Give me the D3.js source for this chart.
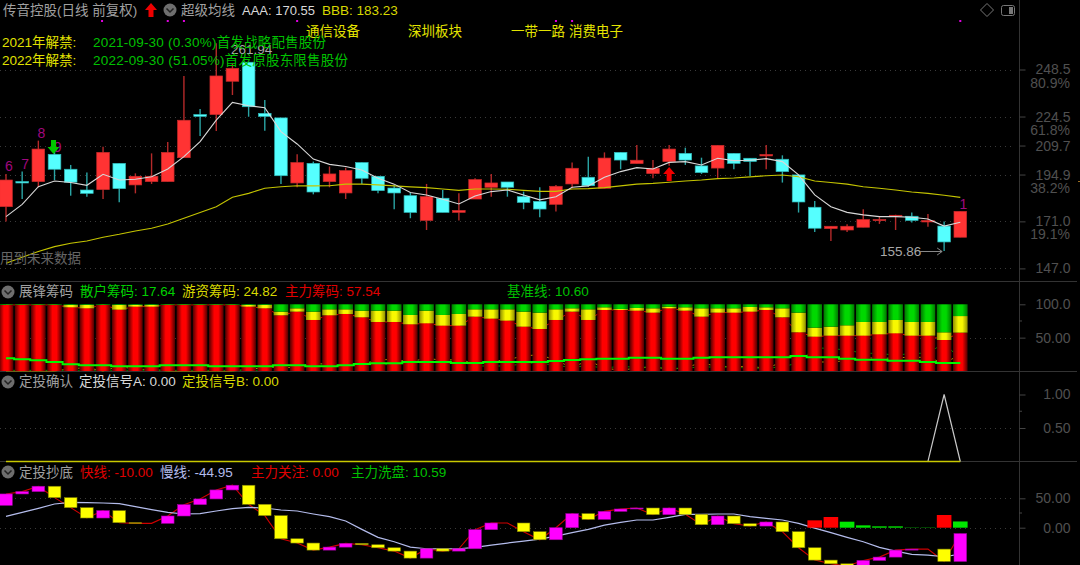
<!DOCTYPE html>
<html>
<head>
<meta charset="utf-8">
<script src="https://cdn.jsdelivr.net/npm/d3@7/dist/d3.min.js"></script>
<style>
    html, body { margin: 0; background: #000; }
    svg { display: block; }
    text { font-family: "Liberation Sans", "Noto Sans CJK SC", sans-serif; font-size: 13.5px; }
    .axis path { display: none; }
    .axis line { stroke: #444; }
    .axis text { fill: #505050; font-size: 14px; text-anchor: end; }
</style>
</head>
<body>
<svg id="chart" width="1080" height="565"></svg>
<script>
// price panel, one entry per trading day
const opens = [178.5,191.3,191.3,205.2,197.6,187.0,187.2,200.6,189.6,191.3,191.3,203.5,225.5,225.5,242.5,252.2,226.1,223.8,190.6,200.6,191.3,185.5,201.0,194.0,188.0,184.1,171.5,182.8,175.6,182.4,188.4,191.1,183.6,181.2,179.7,190.1,193.5,187.9,206.2,200.5,195.4,201.5,205.7,199.3,198.2,205.7,203.2,204.4,202.7,194.7,178.2,167.3,166.6,168.0,171.4,173.6,173.6,170.7,168.6,162.9]
const closes = [192.1,190.6,207.9,197.6,191.0,185.3,206.2,187.7,194.0,194.0,206.2,222.6,224.6,245.2,249.1,229.5,224.6,194.3,201.0,186.0,195.2,196.9,193.0,186.7,185.5,175.6,183.6,175.6,176.6,192.3,190.6,188.4,180.7,177.3,188.9,198.1,189.2,203.3,202.3,202.2,198.1,207.9,202.3,195.9,209.8,200.6,201.6,205.1,196.4,180.9,167.5,168.5,168.5,171.9,171.9,174.1,171.5,171.4,160.5,176.1]
const highs = [195.2,196.4,212.2,209.1,199.8,195.9,209.1,200.6,195.5,205.7,211.5,245.2,228.3,261.94,251.6,252.2,232.9,223.8,205.2,201.5,199.0,198.4,201.0,194.0,189.6,185.8,190.1,187.0,185.3,193.0,195.2,191.1,186.2,188.4,189.6,201.1,204.0,206.2,206.2,210.0,202.3,210.0,208.6,203.5,209.8,205.7,203.2,210.0,204.7,194.7,181.4,168.5,169.5,177.2,173.4,174.4,175.5,174.8,170.9,176.1]
const lows = [170.9,182.4,188.4,192.1,184.1,183.6,182.4,180.7,185.3,190.1,191.3,203.5,214.6,217.1,235.5,224.4,217.3,190.1,188.4,184.8,188.4,182.4,190.1,185.3,177.2,172.6,166.6,175.6,171.4,182.4,183.6,183.6,177.2,173.1,176.0,187.9,188.7,187.9,197.6,200.5,193.0,199.4,199.8,195.2,193.0,197.6,194.2,197.6,190.8,175.5,165.6,161.0,165.6,168.0,169.7,166.6,170.4,168.3,155.86,162.9]
const aaa = [173.4,179.7,188.7,191.6,190.8,189.4,195.0,192.1,192.5,193.8,197.7,204.0,211.7,222.7,231.7,230.0,229.0,216.8,210.5,202.8,200.1,199.0,197.2,193.0,190.0,185.7,184.5,182.3,179.9,184.0,186.2,187.0,184.5,182.0,183.6,188.4,189.1,193.5,196.4,198.4,197.7,201.1,201.5,199.8,203.2,202.0,202.2,203.0,201.5,194.7,184.5,178.5,175.6,174.3,173.4,173.4,173.1,172.2,168.6,170.55]
const bbb = [149.6,152.7,155.6,158.1,159.8,161.0,162.9,164.4,166.1,167.5,169.7,172.6,175.5,178.5,183.3,185.3,187.9,188.7,189.2,189.1,189.2,190.0,190.0,189.6,189.1,188.6,188.2,187.5,186.8,187.5,187.5,187.4,186.8,186.3,186.3,187.5,187.7,188.2,189.1,190.0,190.4,191.0,191.6,192.1,192.8,193.1,193.7,194.3,194.7,193.8,191.6,190.8,190.0,188.7,187.9,187.0,186.0,185.3,184.3,183.23]
const priceTicks = [248.5, 224.5, 209.7, 194.9, 171.0, 147.0]
const fibLabels = ["80.9%", "61.8%", "", "38.2%", "19.1%", ""]
const countLabels = ["6", "7", "8", "9"]

// chips panel
const mainChips = [99,99,99,99,95.5,94,99,92,96.5,96.5,99,99,99,99,99,96.5,94,83.5,89,76.5,83.5,85.5,80.5,73.5,73.5,70,71.5,68,68,81.5,78.5,75.5,66.5,63,76.5,89,76.5,91.5,91.5,90.5,87.5,94,90.5,81.5,87.5,87.5,89,91.5,80.5,58,51.5,53,53,53,55,56.5,53,53,46.5,57.54]
const hotChips = [0,0,0,0,3.5,5,0,7,2.5,2.5,0,0,0,0,0,2.5,5,5.5,5,12.5,9,7,10,17,17,14,19,16,17.5,11,14,17,22.5,24.5,16,5,16,4,1.5,4,6.5,2.5,5,12.5,6.5,6.5,7,4,13.5,29.5,13.5,13.5,15.5,20.5,18.5,20,20.5,20.5,11.5,24.82]
const retailChips = [1,1,1,1,1,1,1,1,1,1,1,1,1,1,1,1,1,11,6,11,7.5,7.5,9.5,9.5,9.5,16,9.5,16,14.5,7.5,7.5,7.5,11,12.5,7.5,6,7.5,4.5,7,5.5,6,3.5,4.5,6,6,6,4,4.5,6,12.5,35,33.5,31.5,26.5,26.5,23.5,26.5,26.5,42,17.64]
const baseLine = [19,17.5,16,13.5,10,8.5,8.5,7,7,7,8.5,8.5,8.5,7,7,7,7,8.5,8.5,7,7,8.5,10.5,11.5,11.5,13.5,13.5,13.5,12,12,13.5,13.5,13.5,13.5,15,16.5,17.5,18.5,18.5,20,20,18.5,18.5,20,20.5,20.5,20.5,20.5,20.5,22.5,20.5,20.5,18.5,17,17,15.5,15.5,13.5,12,12]

// signal panel
const signalA = [0,0,0,0,0,0,0,0,0,0,0,0,0,0,0,0,0,0,0,0,0,0,0,0,0,0,0,0,0,0,0,0,0,0,0,0,0,0,0,0,0,0,0,0,0,0,0,0,0,0,0,0,0,0,0,0,0,0,1,0]
const signalB = [0,0,0,0,0,0,0,0,0,0,0,0,0,0,0,0,0,0,0,0,0,0,0,0,0,0,0,0,0,0,0,0,0,0,0,0,0,0,0,0,0,0,0,0,0,0,0,0,0,0,0,0,0,0,0,0,0,0,0,0]

// bottom panel
const fastStart = 38
const fastLine = [57.4,61.4,70.5,51.1,34.1,16.5,29.0,8.5,7.4,7.4,19.9,39.2,48.9,64.2,72.2,39.8,20.5,-18.8,-26.1,-38.1,-33.0,-26.7,-29.0,-34.1,-39.8,-51.7,-35.8,-39.8,-35.8,-3.4,8.0,8.0,-6.8,-20.5,0,23.9,14.2,27.8,31.8,33.5,22.2,33.5,22.7,5.1,19.9,6.8,2.8,9.7,-6.8,-34.1,-55.1,-61.4,-65.3,-55.7,-50.0,-38.1,-36.4,-36.4,-57.4,-10.0]
const slowLine = [19.3,26.1,33,40.3,43.2,42.6,42,40.9,35.8,30.7,26.1,23.3,23.9,28.4,32.4,34.7,33.5,30.1,28.4,23.3,18.8,11.4,-2.8,-16.5,-23.9,-33,-35.8,-35.8,-35.8,-33.5,-29.5,-26.1,-22.7,-19.3,-14.2,-8.5,-2.8,4.5,9.1,13.1,13.1,17.6,22.7,22.7,23.3,23.3,18.8,15.9,13.1,7.4,-0.6,-8.5,-16.5,-23.9,-33.5,-39.8,-45.5,-46.6,-49.4,-44.95]
const focusBars = [0,0,0,0,0,0,0,0,0,0,0,0,0,0,0,0,0,0,0,0,0,0,0,0,0,0,0,0,0,0,0,0,0,0,0,0,0,0,0,0,0,0,0,0,0,0,0,0,0,0,12.5,18.2,0,0,0,0,0,0,21.6,0]
const washBars = [0,0,0,0,0,0,0,0,0,0,0,0,0,0,0,0,0,0,0,0,0,0,0,0,0,0,0,0,0,0,0,0,0,0,0,0,0,0,0,0,0,0,0,0,0,0,0,0,0,0,0,0,10.2,4,2.3,2.3,0.8,0.8,0,10.59]

const axisX = 1019
const svg = d3.select("#chart")

const x = d3.scaleLinear().domain([0, opens.length - 1]).range([6, 960.3])
const yPrice = d3.scaleLinear().domain([147, 248.5]).range([268.4, 69.5])
const yChips = d3.scaleLinear().domain([0, 100]).range([371, 304.3])
const ySignal = d3.scaleLinear().domain([0, 1]).range([461.5, 394.5])
const yBottom = d3.scaleLinear().domain([0, 50]).range([527.7, 498.3])

function makeGradient(defs, id, edge, middle) {
    let grad = defs.append("linearGradient").attr("id", id)
    grad.append("stop").attr("offset", "0").attr("stop-color", edge)
    grad.append("stop").attr("offset", "0.36").attr("stop-color", middle)
    grad.append("stop").attr("offset", "0.64").attr("stop-color", middle)
    grad.append("stop").attr("offset", "1").attr("stop-color", edge)
}

let defs = svg.append("defs")
makeGradient(defs, "cylRed", "#500000", "#ff0000")
makeGradient(defs, "cylYellow", "#909000", "#f8f800")
makeGradient(defs, "cylGreen", "#007800", "#00d800")

function label(text, px, py, color, anchor) {
    return svg.append("text")
        .attr("x", px)
        .attr("y", py)
        .attr("fill", color)
        .attr("text-anchor", anchor || "start")
        .text(text)
}

function gridLines(values, scale) {
    svg.append("g").selectAll("line").data(values).join("line")
        .attr("x1", 0)
        .attr("x2", axisX - 4)
        .attr("y1", d => Math.round(scale(d)) + 0.5)
        .attr("y2", d => Math.round(scale(d)) + 0.5)
        .attr("stroke", "#3a3a3a")
        .attr("stroke-dasharray", "1,4")
}

function rightAxis(values, scale, format) {
    return svg.append("g")
        .attr("class", "axis")
        .attr("transform", `translate(${axisX + 0.5},0)`)
        .call(d3.axisRight(scale).tickValues(values).tickSize(6).tickFormat(format))
        .call(g => g.selectAll("text").attr("x", 51))
}

function minorTick(value, scale) {
    svg.append("line")
        .attr("x1", axisX).attr("x2", axisX + 3)
        .attr("y1", scale(value)).attr("y2", scale(value))
        .attr("stroke", "#444")
}

function headerIcon(cx, cy) {
    svg.append("circle").attr("cx", cx).attr("cy", cy).attr("r", 6.5).attr("fill", "#6e6e6e")
    svg.append("path")
        .attr("d", `M${cx - 3.5},${cy - 1.5} L${cx},${cy + 2} L${cx + 3.5},${cy - 1.5}`)
        .attr("fill", "none").attr("stroke", "#222").attr("stroke-width", 1.5)
}

function arrow(cx, tipY, dir, color) {
    // dir 1 points up, -1 points down
    svg.append("path")
        .attr("transform", `translate(${cx},${tipY}) scale(1,${dir})`)
        .attr("d", "M0,0 L6,7 L2.5,7 L2.5,14 L-2.5,14 L-2.5,7 L-6,7 Z")
        .attr("fill", color)
}

// frame
svg.append("g").selectAll("line").data([282, 372, 462]).join("line")
    .attr("x1", 0).attr("x2", 1077)
    .attr("y1", d => d - 0.5).attr("y2", d => d - 0.5)
    .attr("stroke", "#333")
svg.append("line").attr("x1", axisX + 0.5).attr("x2", axisX + 0.5).attr("y1", 0).attr("y2", 565).attr("stroke", "#333")

// ---- price panel ----
gridLines(priceTicks, yPrice)
rightAxis(priceTicks, yPrice, d => d.toFixed(1))
svg.append("g").selectAll("text").data(fibLabels).join("text")
    .attr("x", 1070)
    .attr("y", (d, i) => yPrice(priceTicks[i]) + 18)
    .attr("text-anchor", "end")
    .attr("fill", "#505050")
    .style("font-size", "14px")
    .text(d => d)

let candles = svg.append("g").selectAll("g").data(opens).join("g")
candles.append("line")
    .attr("x1", (d, i) => x(i)).attr("x2", (d, i) => x(i))
    .attr("y1", (d, i) => yPrice(highs[i])).attr("y2", (d, i) => yPrice(lows[i]))
    .attr("stroke", (d, i) => closes[i] >= d ? "#b52a2a" : "#2aa5a5")
    .attr("stroke-width", 1.4)
candles.append("rect")
    .attr("x", (d, i) => x(i) - 6.3)
    .attr("width", 12.6)
    .attr("y", (d, i) => yPrice(Math.max(d, closes[i])))
    .attr("height", (d, i) => Math.max(1, Math.abs(yPrice(d) - yPrice(closes[i]))))
    .attr("fill", (d, i) => closes[i] >= d ? "#ff3333" : "#55ffff")
    .attr("stroke", (d, i) => closes[i] >= d ? "#c82a2a" : "#30b8b8")
    .attr("stroke-width", 0.7)

let priceLine = d3.line().x((d, i) => x(i)).y(d => yPrice(d))
svg.append("path").attr("d", priceLine(bbb)).attr("fill", "none").attr("stroke", "#c4c400").attr("stroke-width", 1.1)
svg.append("path").attr("d", priceLine(aaa)).attr("fill", "none").attr("stroke", "#d8d8d8").attr("stroke-width", 1.1)

// count marks above the first candles and the last one
countLabels.forEach((t, i) => {
    let shift = i == 3 ? 5 : -3
    svg.append("text")
        .attr("x", x(i) + 3)
        .attr("y", yPrice(highs[i]) + shift)
        .attr("text-anchor", "middle")
        .attr("fill", "#a0087e")
        .style("font-size", "14px")
        .text(t)
})
svg.append("text")
    .attr("x", x(59) + 3).attr("y", yPrice(highs[59]) - 2)
    .attr("text-anchor", "middle").attr("fill", "#a0087e").style("font-size", "14px").text("1")

arrow(x(3) - 1, 154, -1, "#00c800")
arrow(x(41), 167, 1, "#f00000")

// small magenta marks along the top
svg.append("g").selectAll("rect").data([6, 10, 11, 18, 34, 35, 59]).join("rect")
    .attr("x", d => x(d) - 1 + (d == 6 ? -1 : 0))
    .attr("y", 20).attr("width", 2).attr("height", 2).attr("fill", "#e000e0")

label("261.94", x(15) + 3, yPrice(highs[13]) + 11, "#a8a8a8", "middle")
label("155.86", 880, 256, "#a8a8a8")
svg.append("path")
    .attr("d", `M${x(58) - 24},251.5 H${x(58) - 2} M${x(58) - 7},248 L${x(58) - 2},251.5 L${x(58) - 7},255`)
    .attr("fill", "none").attr("stroke", "#888")
label("用到未来数据", 0, 263, "#666")

// header
label("传音控股(日线 前复权)", 3, 15, "#a0a0a0")
arrow(151, 3, 1, "#ee0000")
headerIcon(170, 10)
label("超级均线", 181, 15, "#a0a0a0")
label("AAA: 170.55", 242, 15, "#d8d8d8").style("font-size", "13px")
label("BBB: 183.23", 322, 15, "#d8d800")
label("通信设备", 306, 36, "#e4e400")
label("深圳板块", 408, 36, "#e4e400")
label("一带一路", 511, 36, "#e4e400")
label("消费电子", 569, 36, "#e4e400")
label("2021年解禁:", 2, 47, "#e0e000")
label("2022年解禁:", 2, 65, "#e0e000")
label("2021-09-30 (0.30%)首发战略配售股份", 93, 47, "#00c000").attr("textLength", 233)
label("2022-09-30 (51.05%)首发原股东限售股份", 93, 65, "#00c000").attr("textLength", 255)
svg.append("path").attr("d", "M987,3.5 L993.5,10 L987,16.5 L980.5,10 Z").attr("fill", "none").attr("stroke", "#777")
svg.append("rect").attr("x", 1001.5).attr("y", 5.5).attr("width", 13).attr("height", 10).attr("rx", 2).attr("fill", "none").attr("stroke", "#777")
svg.append("rect").attr("x", 1009).attr("y", 7).attr("width", 4).attr("height", 7).attr("fill", "#777")
svg.append("rect").attr("x", 1078).attr("y", 181).attr("width", 2).attr("height", 1).attr("fill", "#a07020")

// ---- chips panel ----
gridLines([50], yChips)
rightAxis([50, 100], yChips, d => d.toFixed(2).replace("100.00", "100.0"))
minorTick(75, yChips)

let chipRows = opens.map((d, i) => ({ index: i, main: mainChips[i], hot: hotChips[i], retail: retailChips[i] }))
let chipSeries = d3.stack().keys(["main", "hot", "retail"])(chipRows)
let chipFill = { main: "url(#cylRed)", hot: "url(#cylYellow)", retail: "url(#cylGreen)" }

// the three chip lines sit behind the bars, only the gaps show them
let chipLine = d3.line().x((d, i) => x(i)).y(d => yChips(d))
svg.append("path").attr("d", chipLine(mainChips)).attr("fill", "none").attr("stroke", "#e00000")
svg.append("path").attr("d", chipLine(hotChips)).attr("fill", "none").attr("stroke", "#b08a00")
svg.append("path").attr("d", chipLine(retailChips)).attr("fill", "none").attr("stroke", "#008a00")
svg.append("g").selectAll("g").data(chipSeries).join("g")
    .attr("fill", d => chipFill[d.key])
    .selectAll("rect").data(d => d).join("rect")
    .attr("x", d => x(d.data.index) - 7.3)
    .attr("width", 14.6)
    .attr("y", d => yChips(d[1]))
    .attr("height", d => yChips(d[0]) - yChips(d[1]))
svg.append("path")
    .attr("d", d3.line().x((d, i) => x(i)).y(d => yChips(d)).curve(d3.curveStep)(baseLine))
    .attr("fill", "none").attr("stroke", "#00f800").attr("stroke-width", 2)

headerIcon(8, 292)
label("展锋筹码", 19, 296, "#a0a0a0")
label("散户筹码: 17.64", 80, 296, "#00d000")
label("游资筹码: 24.82", 182, 296, "#d8d800")
label("主力筹码: 57.54", 285, 296, "#e00000")
label("基准线: 10.60", 507, 296, "#00c000")

// ---- signal panel ----
gridLines([0.5], ySignal)
rightAxis([0.5, 1], ySignal, d => d.toFixed(2))
minorTick(0.75, ySignal)

let signalLine = d3.line().x((d, i) => x(i)).y(d => ySignal(d))
svg.append("path").attr("d", signalLine(signalA)).attr("fill", "none").attr("stroke", "#c8c8c8").attr("stroke-width", 1.2)
svg.append("path").attr("d", signalLine(signalB)).attr("fill", "none").attr("stroke", "#c8c800").attr("stroke-width", 1.4)

headerIcon(8, 382)
label("定投确认", 19, 386, "#a0a0a0")
label("定投信号A: 0.00", 79, 386, "#d8d8d8")
label("定投信号B: 0.00", 182, 386, "#d8d800")

// ---- bottom panel ----
gridLines([0, 50], yBottom)
rightAxis([0, 50], yBottom, d => d.toFixed(2))
minorTick(25, yBottom)

let bottomLine = d3.line().x((d, i) => x(i)).y(d => yBottom(d))
svg.append("path").attr("d", bottomLine(fastLine)).attr("fill", "none").attr("stroke", "#d00000").attr("stroke-width", 1.1)
svg.append("path").attr("d", bottomLine(slowLine)).attr("fill", "none").attr("stroke", "#b4bcec").attr("stroke-width", 1.2)

svg.append("g").selectAll("rect").data(fastLine).join("rect")
    .attr("x", (d, i) => x(i) - 6.3)
    .attr("width", 12.6)
    .attr("y", (d, i) => yBottom(Math.max(d, i ? fastLine[i - 1] : fastStart)))
    .attr("height", (d, i) => Math.abs(yBottom(d) - yBottom(i ? fastLine[i - 1] : fastStart)))
    .attr("fill", (d, i) => d >= (i ? fastLine[i - 1] : fastStart) ? "#ff00ff" : "#ffff00")
    .attr("stroke", (d, i) => d >= (i ? fastLine[i - 1] : fastStart) ? "#a000a0" : "#808000")
    .attr("stroke-width", 0.6)

function zeroBars(values, color, edge) {
    svg.append("g").selectAll("rect").data(values).join("rect")
        .attr("x", (d, i) => x(i) - 7.3)
        .attr("width", 14.6)
        .attr("y", d => yBottom(d))
        .attr("height", d => yBottom(0) - yBottom(d))
        .attr("fill", d => d < 1 ? edge : color)
}
zeroBars(focusBars, "#ff0000", "#ff0000")
zeroBars(washBars, "#00e800", "#008c00")

headerIcon(8, 472)
label("定投抄底", 19, 477, "#a0a0a0")
label("快线: -10.00", 80, 477, "#e00000")
label("慢线: -44.95", 160, 477, "#b4bcec")
label("主力关注: 0.00", 251, 477, "#e00000")
label("主力洗盘: 10.59", 351, 477, "#00c000")
</script>
</body>
</html>
